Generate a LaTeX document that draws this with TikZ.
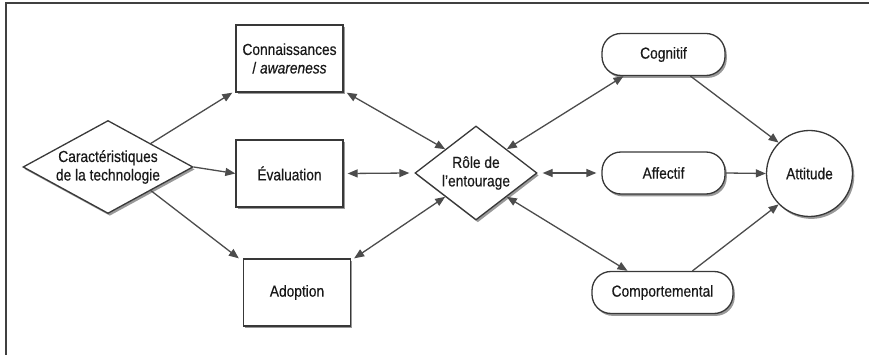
\documentclass[tikz,border=0pt]{standalone}
\usepackage{fontspec}
\setmainfont{Liberation Sans}[FakeStretch=0.86,FakeBold=0.4]
\usetikzlibrary{shapes.geometric,arrows.meta,shadows,calc}
\begin{document}
\begin{tikzpicture}[x=1pt,y=-1pt,
  font=\fontsize{16}{18.5}\selectfont,
  every node/.style={inner sep=0pt, align=center, text=black!90},
  shad/.style={drop shadow={shadow xshift=1.8pt,shadow yshift=-2.4pt,fill=black,opacity=0.4}},
  boxn/.style={draw=black!78, line width=1.3pt, fill=white, minimum width=107pt, minimum height=67pt, shad},
  diam/.style={diamond, draw=black!78, line width=1.3pt, fill=white, shad, aspect=1.8},
  pill/.style={draw=black!78, line width=1.3pt, fill=white, rounded corners=19pt, minimum height=42pt, shad},
  circ/.style={circle, draw=black!78, line width=1.3pt, fill=white, minimum size=86pt, shad},
  tip/.style={Triangle[length=10pt,width=8pt]},
  conn/.style={draw=black!70, line width=1.3pt, -{Triangle[length=10pt,width=8pt]}},
  bconn/.style={draw=black!70, line width=1.3pt, {Triangle[length=10pt,width=8pt]}-{Triangle[length=10pt,width=8pt]}},
  frame/.style={draw=black!75, line width=1.4pt}]
\useasboundingbox (0,0) rectangle (869,355);
\draw[frame] (6,355) -- (6,3) -- (869,3);

\node[diam, minimum width=170pt, minimum height=93pt] (car) at (108,167) {};
\node at (108,167) {Caractéristiques\\de la technologie};
\node[boxn] (con) at (289.5,58.5) {Connaissances\\/ \textit{awareness}};
\node[boxn] (eva) at (289.5,173.5) {Évaluation};
\node[boxn] (ado) at (297,292.5) {Adoption};
\node[diam, minimum width=122pt, minimum height=94pt] (rol) at (476,173) {};
\node at (476,173) {Rôle de\\l’entourage};
\node[pill, minimum width=123pt] (cog) at (663.5,54.5) {Cognitif};
\node[pill, minimum width=123pt] (aff) at (663.5,173) {Affectif};
\node[pill, minimum width=141pt] (com) at (662.5,292.5) {Comportemental};
\node[circ] (att) at (809.5,173.5) {Attitude};

\draw[conn] (car.north east) -- ([xshift=-3pt]con.south west);
\draw[conn] (car.east) -- (eva.west);
\draw[conn] (car.south east) -- ([xshift=-4pt]ado.north west);
\draw[bconn] ([xshift=3pt]con.south east) -- (rol.north west);
\draw[bconn] ([xshift=4pt]eva.east) -- ([xshift=-5pt]rol.west);
\draw[bconn] ([xshift=3pt]ado.north east) -- (rol.south west);
\draw[bconn] (rol.north east) -- ([xshift=-40pt]cog.south);
\draw[bconn] ([xshift=5pt]rol.east) -- ([xshift=-5pt]aff.west);
\draw[bconn] (rol.south east) -- ([xshift=-35pt]com.north);
\draw[conn] ([xshift=27pt]cog.south) -- (att.north west);
\draw[conn] (aff.east) -- (att.west);
\draw[conn] ([xshift=30pt]com.north) -- (att.south west);
\end{tikzpicture}
\end{document}
